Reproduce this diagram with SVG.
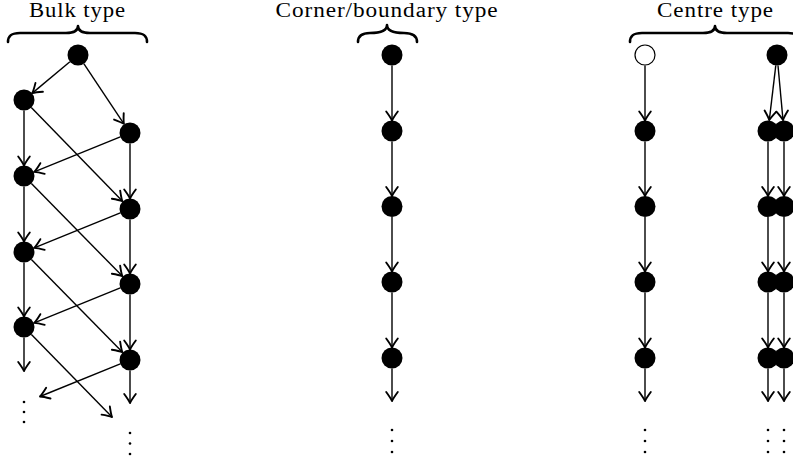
<svg xmlns="http://www.w3.org/2000/svg" width="793" height="461" viewBox="0 0 793 461">
  <style>
    .lbl { font-family: "Liberation Serif", "DejaVu Serif", serif; font-size: 20.5px; letter-spacing: 0.8px; fill: #000; text-anchor: middle; }
    .brace { fill: none; stroke: #000; stroke-width: 2.6; stroke-linecap: round; stroke-linejoin: round; }
    .edge { fill: none; stroke: #000; stroke-width: 1.4; marker-end: url(#tip); }
    .node { fill: #000; }
    .open { fill: #fff; stroke: #000; stroke-width: 1.2; }
    .dot { fill: #000; }
  </style>
  <defs>
    <marker id="tip" markerUnits="userSpaceOnUse" markerWidth="16" markerHeight="16" viewBox="-12 -8 14 16" refX="0" refY="0" orient="auto">
      <path d="M-9,-5.8 Q-3,-1.4 0,0 Q-3,1.4 -9,5.8" fill="none" stroke="#000" stroke-width="1.9" stroke-linecap="round" stroke-linejoin="round"/>
    </marker>
  </defs>

  <!-- headings with braces -->
  <g id="heading-bulk">
    <text class="lbl" x="77.5" y="16.5" textLength="97" lengthAdjust="spacingAndGlyphs">Bulk type</text>
    <path class="brace" d="M8,42 C8,36 11,33 20,33 L66,33 C74,33 78,31 78,26 C78,31 82,33 90,33 L135,33 C144,33 147,36 147,42"/>
  </g>
  <g id="heading-corner">
    <text class="lbl" x="387" y="16.5" textLength="223" lengthAdjust="spacingAndGlyphs">Corner/boundary type</text>
    <path class="brace" d="M358,42 C358,36 362,33 370,33 C380,33 387,31 387,25 C387,31 394,33 404,33 C412,33 417,36 417,42"/>
  </g>
  <g id="heading-centre">
    <text class="lbl" x="715.5" y="16.5" textLength="117" lengthAdjust="spacingAndGlyphs">Centre type</text>
    <path class="brace" d="M630,42 C630,36 633,33 642,33 L703,33 C711,33 715,31 715,26 C715,31 719,33 727,33 L788,33 C797,33 800,36 800,42"/>
  </g>

  <!-- connectors -->
  <g id="connectors">
    <!-- bulk -->
    <line class="edge" x1="69.9" y1="61.7" x2="32.3" y2="93.1"/>
    <line class="edge" x1="83.8" y1="63.7" x2="123.9" y2="123.8"/>
    <line class="edge" x1="24" y1="110.5" x2="24" y2="165.5"/>
    <line class="edge" x1="130" y1="143.5" x2="130" y2="198.5"/>
    <line class="edge" x1="31.3" y1="107.5" x2="122.3" y2="201.1"/>
    <line class="edge" x1="120.3" y1="136.9" x2="34.2" y2="171.9"/>
    <line class="edge" x1="24" y1="186.5" x2="24" y2="241.5"/>
    <line class="edge" x1="130" y1="219.5" x2="130" y2="273.5"/>
    <line class="edge" x1="31.4" y1="183.5" x2="122.3" y2="276.1"/>
    <line class="edge" x1="120.3" y1="212.9" x2="34.2" y2="247.9"/>
    <line class="edge" x1="24" y1="262.5" x2="24" y2="316.5"/>
    <line class="edge" x1="130" y1="294.5" x2="130" y2="349.5"/>
    <line class="edge" x1="31.4" y1="259.5" x2="122.3" y2="352.1"/>
    <line class="edge" x1="120.3" y1="287.9" x2="34.2" y2="322.9"/>
    <line class="edge" x1="24" y1="337.5" x2="24" y2="371"/>
    <line class="edge" x1="130" y1="370.5" x2="130" y2="403"/>
    <line class="edge" x1="31.4" y1="334.5" x2="112" y2="417"/>
    <line class="edge" x1="120.3" y1="363.9" x2="40" y2="396.5"/>
    <!-- corner/boundary -->
    <line class="edge" x1="392" y1="65.5" x2="392" y2="120.5"/>
    <line class="edge" x1="392" y1="141.5" x2="392" y2="196"/>
    <line class="edge" x1="392" y1="217" x2="392" y2="271.5"/>
    <line class="edge" x1="392" y1="292.5" x2="392" y2="347.5"/>
    <line class="edge" x1="392" y1="368.5" x2="392" y2="401"/>
    <!-- centre, left column -->
    <line class="edge" x1="645" y1="65.5" x2="645" y2="120.5"/>
    <line class="edge" x1="645" y1="141.5" x2="645" y2="196"/>
    <line class="edge" x1="645" y1="217" x2="645" y2="271.5"/>
    <line class="edge" x1="645" y1="292.5" x2="645" y2="347.5"/>
    <line class="edge" x1="645" y1="368.5" x2="645" y2="401"/>
    <!-- centre, right pair -->
    <line class="edge" x1="775.8" y1="65.4" x2="769.3" y2="120.1"/>
    <line class="edge" x1="778" y1="65.5" x2="783" y2="120.1"/>
    <line class="edge" x1="768" y1="141.5" x2="768" y2="196"/>
    <line class="edge" x1="784" y1="141.5" x2="784" y2="196"/>
    <line class="edge" x1="768" y1="217" x2="768" y2="271.5"/>
    <line class="edge" x1="784" y1="217" x2="784" y2="271.5"/>
    <line class="edge" x1="768" y1="292.5" x2="768" y2="347.5"/>
    <line class="edge" x1="784" y1="292.5" x2="784" y2="347.5"/>
    <line class="edge" x1="768" y1="368.5" x2="768" y2="401"/>
    <line class="edge" x1="784" y1="368.5" x2="784" y2="401"/>
  </g>

  <!-- bulk nodes -->
  <g id="bulk-top"><circle class="node" cx="78" cy="55" r="10.5"/></g>
  <g id="bulk-l1"><circle class="node" cx="24" cy="100" r="10.5"/></g>
  <g id="bulk-l2"><circle class="node" cx="24" cy="176" r="10.5"/></g>
  <g id="bulk-l3"><circle class="node" cx="24" cy="252" r="10.5"/></g>
  <g id="bulk-l4"><circle class="node" cx="24" cy="327" r="10.5"/></g>
  <g id="bulk-r1"><circle class="node" cx="130" cy="133" r="10.5"/></g>
  <g id="bulk-r2"><circle class="node" cx="130" cy="209" r="10.5"/></g>
  <g id="bulk-r3"><circle class="node" cx="130" cy="284" r="10.5"/></g>
  <g id="bulk-r4"><circle class="node" cx="130" cy="360" r="10.5"/></g>
  <g id="bulk-more">
    <circle class="dot" cx="24" cy="402" r="1.3"/><circle class="dot" cx="24" cy="412" r="1.3"/><circle class="dot" cx="24" cy="422" r="1.3"/>
    <circle class="dot" cx="130" cy="433" r="1.3"/><circle class="dot" cx="130" cy="443.5" r="1.3"/><circle class="dot" cx="130" cy="454" r="1.3"/>
  </g>

  <!-- corner/boundary nodes -->
  <g id="corner-1"><circle class="node" cx="392" cy="55" r="10.5"/></g>
  <g id="corner-2"><circle class="node" cx="392" cy="131" r="10.5"/></g>
  <g id="corner-3"><circle class="node" cx="392" cy="206.5" r="10.5"/></g>
  <g id="corner-4"><circle class="node" cx="392" cy="282" r="10.5"/></g>
  <g id="corner-5"><circle class="node" cx="392" cy="358" r="10.5"/></g>
  <g id="corner-more">
    <circle class="dot" cx="392" cy="430" r="1.3"/><circle class="dot" cx="392" cy="441" r="1.3"/><circle class="dot" cx="392" cy="452" r="1.3"/>
  </g>

  <!-- centre nodes -->
  <g id="centre-a0"><circle class="open" cx="645" cy="55" r="10"/></g>
  <g id="centre-a1"><circle class="node" cx="645" cy="131" r="10.5"/></g>
  <g id="centre-a2"><circle class="node" cx="645" cy="206.5" r="10.5"/></g>
  <g id="centre-a3"><circle class="node" cx="645" cy="282" r="10.5"/></g>
  <g id="centre-a4"><circle class="node" cx="645" cy="358" r="10.5"/></g>
  <g id="centre-b0"><circle class="node" cx="777" cy="55" r="10.5"/></g>
  <g id="centre-b1"><circle class="node" cx="768" cy="131" r="10.5"/><circle class="node" cx="784" cy="131" r="10.5"/></g>
  <g id="centre-b2"><circle class="node" cx="768" cy="206.5" r="10.5"/><circle class="node" cx="784" cy="206.5" r="10.5"/></g>
  <g id="centre-b3"><circle class="node" cx="768" cy="282" r="10.5"/><circle class="node" cx="784" cy="282" r="10.5"/></g>
  <g id="centre-b4"><circle class="node" cx="768" cy="358" r="10.5"/><circle class="node" cx="784" cy="358" r="10.5"/></g>
  <g id="centre-more">
    <circle class="dot" cx="645" cy="430" r="1.3"/><circle class="dot" cx="645" cy="441" r="1.3"/><circle class="dot" cx="645" cy="452" r="1.3"/>
    <circle class="dot" cx="768" cy="430" r="1.3"/><circle class="dot" cx="768" cy="441" r="1.3"/><circle class="dot" cx="768" cy="452" r="1.3"/>
    <circle class="dot" cx="784" cy="430" r="1.3"/><circle class="dot" cx="784" cy="441" r="1.3"/><circle class="dot" cx="784" cy="452" r="1.3"/>
  </g>
</svg>
